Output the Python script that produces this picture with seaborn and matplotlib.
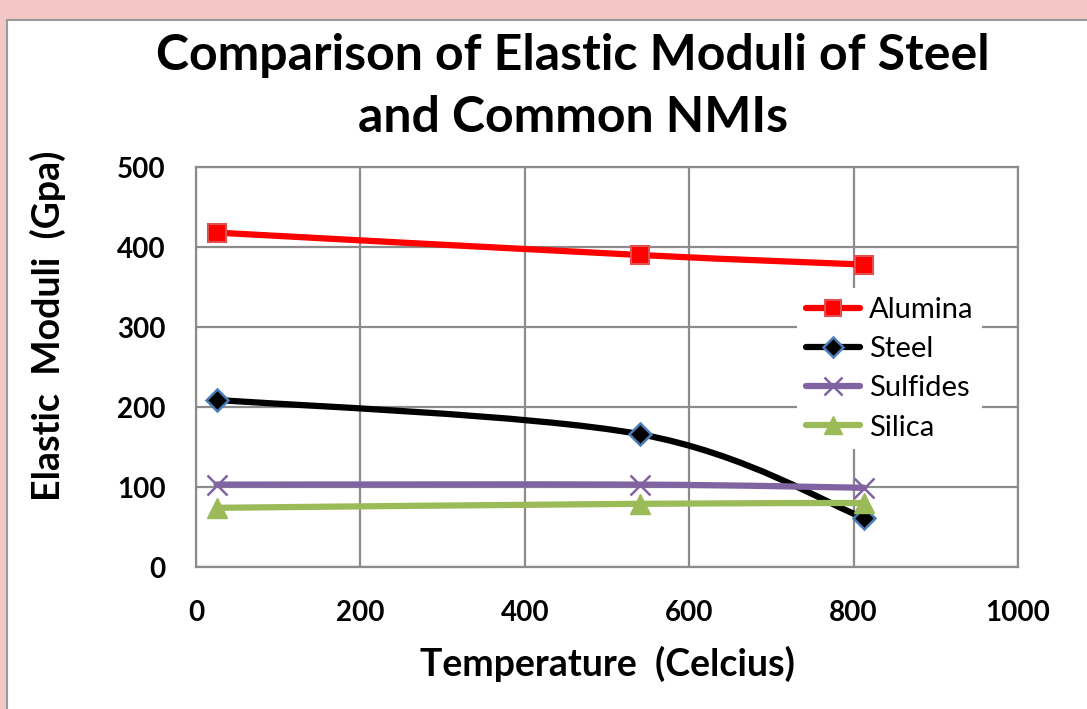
import numpy as np
import pandas as pd
import matplotlib
matplotlib.use("Agg")
import matplotlib.pyplot as plt
from matplotlib.path import Path
from matplotlib.patches import PathPatch, Rectangle
from matplotlib.lines import Line2D
import seaborn as sns

# ---- data ----
series_names = ["Alumina", "Steel", "Sulfides", "Silica"]
temps_alumina = [25, 540, 813]
alumina = [418, 390, 378]
temps_steel = [25, 540, 813]
steel = [209, 166, 61]
temps_sulfides = [25, 540, 813]
sulfides = [103, 103, 99]
temps_silica = [25, 540, 813]
silica = [74, 79, 80]
x_ticks = [0, 200, 400, 600, 800, 1000]
y_ticks = [0, 100, 200, 300, 400, 500]

rows = []
for name, xs, ys in [("Alumina", temps_alumina, alumina), ("Steel", temps_steel, steel),
                     ("Sulfides", temps_sulfides, sulfides), ("Silica", temps_silica, silica)]:
    for xv, yv in zip(xs, ys):
        rows.append({"Temperature": xv, "Modulus": yv, "Series": name})
df = pd.DataFrame(rows)

sns.set_theme(style="white")
plt.rcParams['font.family'] = ['Lato', 'DejaVu Sans']
plt.rcParams['text.color'] = 'black'
plt.rcParams['axes.labelcolor'] = 'black'
plt.rcParams['xtick.color'] = 'black'
plt.rcParams['ytick.color'] = 'black'

styles = {
    "Alumina": dict(color="#FF0000", marker="s", mfc="#FF0000", mec="#E05050", ms=13, mew=1.5, lw=4.5),
    "Steel": dict(color="#000000", marker="D", mfc="#000000", mec="#4A7EBB", ms=11, mew=1.8, lw=4.5),
    "Sulfides": dict(color="#8064A2", marker="x", mfc="#8064A2", mec="#8064A2", ms=15, mew=1.8, lw=4.5),
    "Silica": dict(color="#9BBB59", marker="^", mfc="#9BBB59", mec="#9BBB59", ms=14, mew=1.0, lw=4.5),
}

fig = plt.figure(figsize=(10.87, 7.09), dpi=100)
fig.patch.set_facecolor("#F4C7C7")
card = Rectangle((7 / 1087, -0.5), 2.0, 1.5 - 20 / 709, transform=fig.transFigure,
                 facecolor="white", edgecolor="#9A9A9A", linewidth=1.5, zorder=-10)
fig.patches.append(card)

ax = fig.add_axes([196 / 1087, 1 - 567 / 709, (1018 - 196) / 1087, 400 / 709])
ax.set_zorder(2)
ax.set_facecolor("white")


def smooth_path(xs, ys):
    P = np.column_stack([xs, ys]).astype(float)
    n = len(P)
    verts = [P[0]]
    codes = [Path.MOVETO]
    for i in range(n - 1):
        p_prev = P[i - 1] if i > 0 else P[i]
        p_next = P[i + 2] if i + 2 < n else P[i + 1]
        c1 = P[i] + (P[i + 1] - p_prev) / 6.0
        c2 = P[i + 1] - (p_next - P[i]) / 6.0
        verts += [c1, c2, P[i + 1]]
        codes += [Path.CURVE4] * 3
    return Path(verts, codes)


for name in series_names:
    st = styles[name]
    sub = df[df["Series"] == name]
    patch = PathPatch(smooth_path(sub["Temperature"].values, sub["Modulus"].values),
                      facecolor="none", edgecolor=st["color"], lw=st["lw"],
                      capstyle="round", joinstyle="round", zorder=3)
    ax.add_patch(patch)
    sns.lineplot(data=sub, x="Temperature", y="Modulus", ax=ax, linestyle="",
                 marker=st["marker"], markersize=st["ms"], markerfacecolor=st["mfc"],
                 markeredgecolor=st["mec"], markeredgewidth=st["mew"], color=st["color"],
                 legend=False, zorder=4)

ax.set_xlim(0, 1000)
ax.set_ylim(0, 500)
ax.set_xticks(x_ticks)
ax.set_yticks(y_ticks)
ax.set_xticklabels([str(v) for v in x_ticks], fontsize=20, fontweight="bold")
ax.set_yticklabels([str(v) for v in y_ticks], fontsize=20, fontweight="bold")
ax.tick_params(axis="x", length=0, pad=24)
ax.tick_params(axis="y", length=0, pad=22)
ax.grid(True, color="#8C8C8C", linewidth=1.6)
ax.set_axisbelow(True)
for sp in ax.spines.values():
    sp.set_color("#8C8C8C")
    sp.set_linewidth(1.6)
ax.set_xlabel("")
ax.set_ylabel("")

fig.text(607 / 1087, 1 - 664 / 709, "Temperature  (Celcius)", ha="center", va="center",
         fontsize=27, fontweight="bold")
fig.text(48 / 1087, 1 - 326 / 709, "Elastic  Moduli  (Gpa)", ha="center", va="center",
         rotation=90, fontsize=27, fontweight="bold")

handles = []
for name in series_names:
    st = styles[name]
    handles.append(Line2D([0], [0], color=st["color"], lw=st["lw"], marker=st["marker"],
                          markersize=st["ms"] * 0.9, markerfacecolor=st["mfc"],
                          markeredgecolor=st["mec"], markeredgewidth=st["mew"],
                          solid_capstyle="round"))
leg = ax.legend(handles, series_names, loc="upper left", bbox_to_anchor=(0.714, 0.733),
                frameon=True, fontsize=21, handlelength=1.85, handletextpad=0.3,
                labelspacing=0.45, borderpad=0.3)
leg.get_frame().set_edgecolor("none")
leg.get_frame().set_facecolor("white")
leg.get_frame().set_alpha(1.0)
leg.set_zorder(5)

fig.text(573 / 1087, 1 - 55 / 709, "Comparison of Elastic Moduli of Steel",
         ha="center", va="center", fontsize=36, fontweight="bold", color="black")
fig.text(573 / 1087, 1 - 118 / 709, "and Common NMIs",
         ha="center", va="center", fontsize=36, fontweight="bold", color="black")

fig.savefig("out.png", dpi=100, facecolor=fig.get_facecolor())
